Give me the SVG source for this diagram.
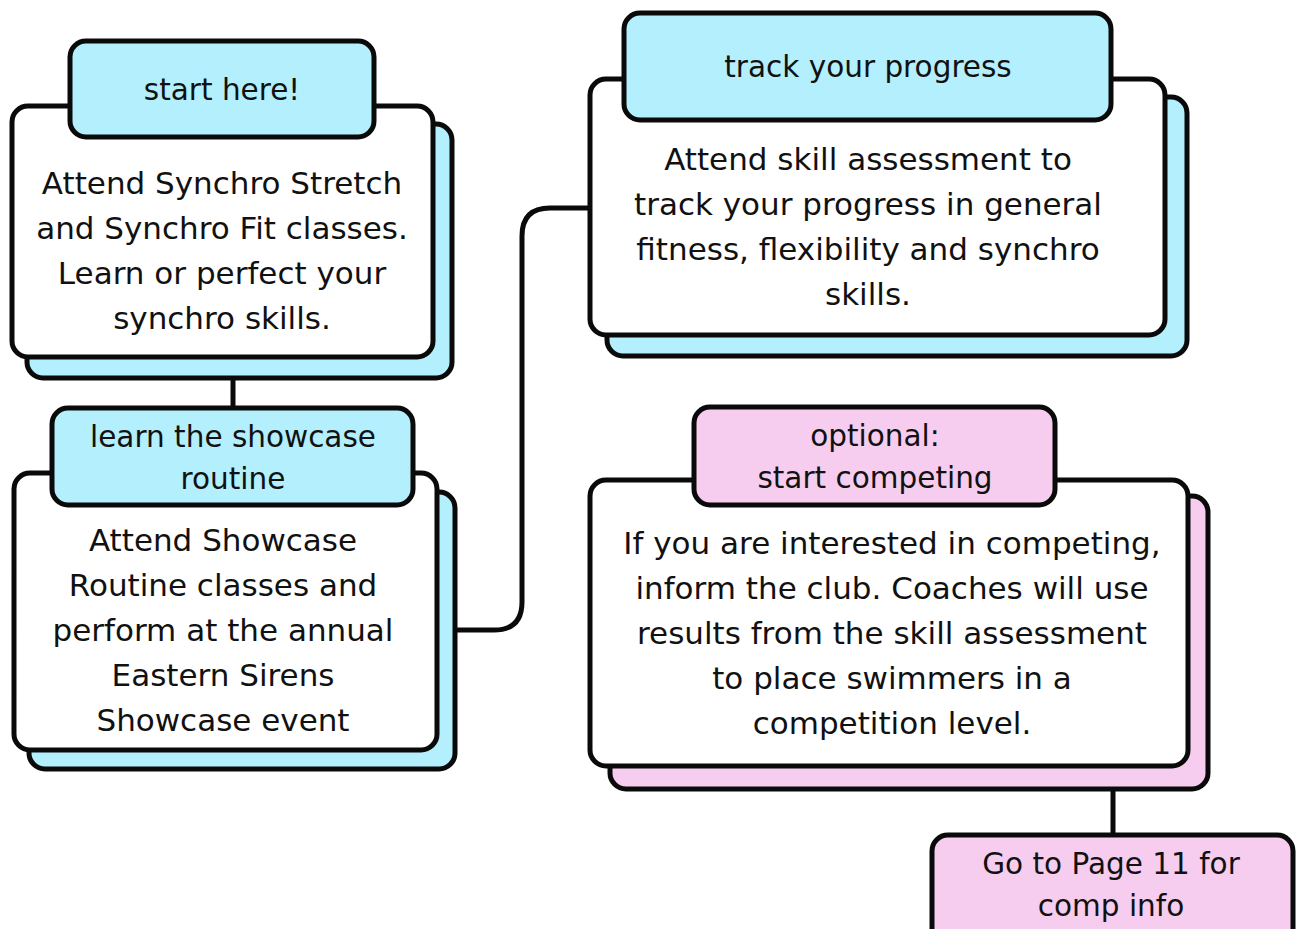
<svg xmlns="http://www.w3.org/2000/svg" width="1300" height="929" viewBox="0 0 1300 929">
  <style>
    .box { stroke: #0a0a0a; stroke-width: 5; }
    .cyan { fill: #b3effd; }
    .pink { fill: #f6cdef; }
    .white { fill: #ffffff; }
    .link { fill: none; stroke: #0a0a0a; stroke-width: 5; }
    text { font-family: "DejaVu Sans", "Liberation Sans", sans-serif; font-size: 31px; fill: #111111; text-anchor: middle; }
    text.tab { font-size: 29.5px; }
  </style>

  <rect width="1300" height="929" fill="#ffffff"/>

  <!-- connectors -->
  <g id="connectors">
    <line class="link" x1="233" y1="376" x2="233" y2="410"/>
    <path class="link" d="M453,630 H494 Q522,630 522,602 V236 Q522,208 550,208 H592"/>
    <line class="link" x1="1113" y1="788" x2="1113" y2="837"/>
  </g>

  <!-- step 1 -->
  <g id="node-start">
    <rect class="box cyan" x="27" y="124" width="425" height="254" rx="16"/>
    <rect class="box white" x="12" y="106" width="421" height="251" rx="16"/>
    <rect class="box cyan" x="70" y="41" width="304" height="96" rx="16"/>
    <text class="tab" x="222" y="100">start here!</text>
    <text x="222" y="194">Attend Synchro Stretch</text>
    <text x="222" y="239">and Synchro Fit classes.</text>
    <text x="222" y="284">Learn or perfect your</text>
    <text x="222" y="329">synchro skills.</text>
  </g>

  <!-- step 2 -->
  <g id="node-showcase">
    <rect class="box cyan" x="29" y="492" width="426" height="277" rx="16"/>
    <rect class="box white" x="14" y="473" width="423" height="277" rx="16"/>
    <rect class="box cyan" x="52" y="408" width="361" height="97" rx="16"/>
    <text class="tab" x="233" y="447">learn the showcase</text>
    <text class="tab" x="233" y="489">routine</text>
    <text x="223" y="551">Attend Showcase</text>
    <text x="223" y="596">Routine classes and</text>
    <text x="223" y="641">perform at the annual</text>
    <text x="223" y="686">Eastern Sirens</text>
    <text x="223" y="731">Showcase event</text>
  </g>

  <!-- step 3 -->
  <g id="node-progress">
    <rect class="box cyan" x="607" y="97" width="580" height="259" rx="16"/>
    <rect class="box white" x="590" y="79" width="575" height="256" rx="16"/>
    <rect class="box cyan" x="624" y="13" width="487" height="107" rx="16"/>
    <text class="tab" x="868" y="77">track your progress</text>
    <text x="868" y="170">Attend skill assessment to</text>
    <text x="868" y="215">track your progress in general</text>
    <text x="868" y="260">fitness, flexibility and synchro</text>
    <text x="868" y="305">skills.</text>
  </g>

  <!-- step 4 -->
  <g id="node-compete">
    <rect class="box pink" x="610" y="496" width="598" height="293" rx="16"/>
    <rect class="box white" x="590" y="480" width="598" height="286" rx="16"/>
    <rect class="box pink" x="694" y="407" width="361" height="98" rx="16"/>
    <text class="tab" x="875" y="446">optional:</text>
    <text class="tab" x="875" y="488">start competing</text>
    <text x="892" y="554">If you are interested in competing,</text>
    <text x="892" y="599">inform the club. Coaches will use</text>
    <text x="892" y="644">results from the skill assessment</text>
    <text x="892" y="689">to place swimmers in a</text>
    <text x="892" y="734">competition level.</text>
  </g>

  <!-- step 5 -->
  <g id="node-compinfo">
    <rect class="box pink" x="932" y="835" width="361" height="110" rx="16"/>
    <text class="tab" x="1111" y="874">Go to Page 11 for</text>
    <text class="tab" x="1111" y="916">comp info</text>
  </g>
</svg>
